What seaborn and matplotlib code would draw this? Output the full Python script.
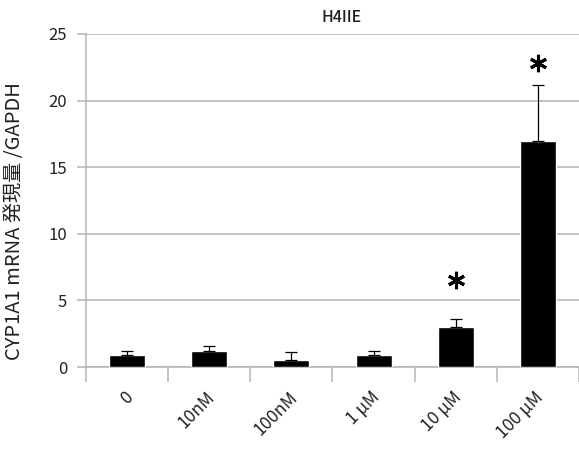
import numpy as np
import pandas as pd
import matplotlib
matplotlib.use("Agg")
import matplotlib.pyplot as plt
from matplotlib.transforms import ScaledTranslation
import seaborn as sns

# values
doses = ["0", "10nM", "100nM", "1 μM", "10 μM", "100 μM"]
expression = [0.92, 1.22, 0.55, 0.90, 2.97, 17.0]
err_up = [0.30, 0.35, 0.57, 0.30, 0.63, 4.2]
star_y = [None, None, None, None, 6.5, 22.8]

sns.set_style("white")
plt.rcParams["font.family"] = ["Noto Sans CJK JP", "DejaVu Sans"]

df = pd.DataFrame({"dose": doses, "expr": expression})
grey = "#b4b4b4"

fig = plt.figure(figsize=(5.79, 4.5), dpi=100)
ax = fig.add_axes([86 / 579, 1 - 367 / 450, 1 - 86 / 579, (367 - 34) / 450])

sns.barplot(data=df, x="dose", y="expr", color="black", saturation=1,
            width=0.44, errorbar=None, ax=ax, zorder=3)
x = np.arange(len(doses))
ax.errorbar(x, expression, yerr=[np.zeros(len(doses)), err_up], fmt="none",
            ecolor="black", elinewidth=0.9, capsize=4, capthick=0.9, zorder=4)

# significance marks
for i, s in enumerate(star_y):
    if s is not None:
        ax.plot(i, s, marker=(6, 2, 0), markersize=12.5, mew=2.2, color="black",
                clip_on=False, zorder=5)

ax.set_ylim(0, 25)
ax.set_xlim(-0.5, len(doses) - 0.5)
ax.set_yticks(range(0, 26, 5))
ax.yaxis.grid(True, color=grey, lw=1.1)
ax.set_axisbelow(True)

for side in ["top", "right"]:
    ax.spines[side].set_visible(False)
for side in ["left", "bottom"]:
    ax.spines[side].set_color(grey)
    ax.spines[side].set_linewidth(1.1)

ax.tick_params(axis="y", left=True, length=6.5, width=1.1, color=grey,
               labelsize=12, pad=7, labelcolor="#222222")
ax.set_xticks(x)
ax.set_xticks(np.arange(-0.5, len(doses), 1), minor=True)
ax.tick_params(axis="x", which="major", length=0, pad=20, labelsize=12.5,
               labelcolor="#222222")
ax.tick_params(axis="x", which="minor", bottom=True, length=11, width=1.1,
               color=grey)
# rotated labels ending just right of each category centre
shift = ScaledTranslation(3 / 100, 0, fig.dpi_scale_trans)
for lab in ax.get_xticklabels():
    lab.set_rotation(45)
    lab.set_ha("right")
    lab.set_va("center")
    lab.set_rotation_mode("anchor")
    lab.set_transform(lab.get_transform() + shift)

ax.set_xlabel("")
ax.set_ylabel("CYP1A1 mRNA 発現量 /GAPDH", fontsize=14.5, color="#222222")
ax.yaxis.set_label_coords(-0.124, 0.438)

fig.text(342 / 579, 1 - 18 / 450, "H4IIE", ha="center", va="center",
         fontsize=11.5, fontweight="medium", color="#222222")

fig.savefig("out.png", dpi=100)
